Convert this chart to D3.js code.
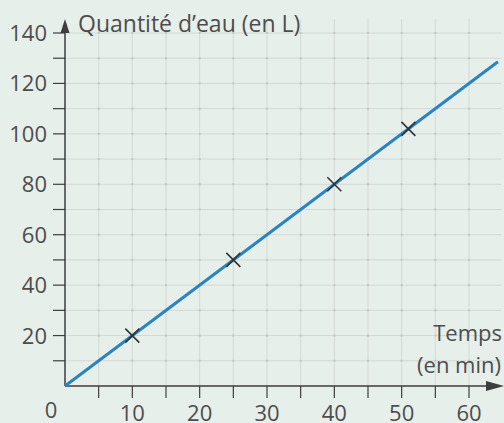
<!DOCTYPE html>
<html><head><meta charset="utf-8">
<script src="https://cdn.jsdelivr.net/npm/d3@7"></script>
<style>
html,body{margin:0;padding:0;background:#e7efea;}
svg{display:block;}
text{font-family:"Open Sans",sans-serif;fill:#4d4d4d;}
</style></head><body>
<svg id="c" width="504" height="423"></svg>
<script>
const pointsX = [10, 25, 40, 51];
const pointsY = [20, 50, 80, 102];
const lineX = [0, 64.3];
const lineY = [0, 128.6];
const xTickLabels = [10, 20, 30, 40, 50, 60];
const yTickLabels = [20, 40, 60, 80, 100, 120, 140];
const xLabel = ["Temps", "(en min)"];
const yLabel = "Quantité d’eau (en L)";

const svg = d3.select("#c");
const x = d3.scaleLinear().domain([0, 60]).range([65, 469]);
const y = d3.scaleLinear().domain([0, 140]).range([386, 33]);

const xMax = 64.8, yMax = 145.5;
const gGrid = svg.append("g");
d3.range(5, 65, 5).forEach(v => {
  gGrid.append("line").attr("x1", x(v)).attr("x2", x(v)).attr("y1", y(0)).attr("y2", y(yMax))
    .attr("stroke", "#d3d8d4").attr("stroke-width", 1);
});
d3.range(10, 150, 10).forEach(v => {
  gGrid.append("line").attr("x1", x(0)).attr("x2", x(xMax)).attr("y1", y(v)).attr("y2", y(v))
    .attr("stroke", "#d3d8d4").attr("stroke-width", 1);
});
d3.range(5, 65, 5).forEach(a => d3.range(10, 150, 10).forEach(b => {
  gGrid.append("rect").attr("x", x(a) - 1).attr("y", y(b) - 1).attr("width", 2).attr("height", 2)
    .attr("fill", "#c3c8c4");
}));

const axisColor = "#3d3d3d";
svg.append("line").attr("x1", x(0)).attr("x2", 496).attr("y1", y(0)).attr("y2", y(0))
  .attr("stroke", axisColor).attr("stroke-width", 1.5);
svg.append("path").attr("d", `M504,${y(0)} L486,${y(0)-5} L486,${y(0)+5} Z`).attr("fill", axisColor);
svg.append("line").attr("x1", x(0)).attr("x2", x(0)).attr("y1", y(0)).attr("y2", 26)
  .attr("stroke", axisColor).attr("stroke-width", 1.5);
svg.append("path").attr("d", `M${x(0)},19 L${x(0)-4.5},33 L${x(0)+4.5},33 Z`).attr("fill", axisColor);

d3.range(5, 65, 5).forEach(v => {
  svg.append("line").attr("x1", x(v)).attr("x2", x(v)).attr("y1", y(0)).attr("y2", y(0) + 12)
    .attr("stroke", axisColor).attr("stroke-width", 1.2);
});
d3.range(10, 150, 10).forEach(v => {
  svg.append("line").attr("x1", x(0) - 12).attr("x2", x(0)).attr("y1", y(v)).attr("y2", y(v))
    .attr("stroke", axisColor).attr("stroke-width", 1.2);
});

svg.selectAll(".xl").data(xTickLabels).enter().append("text")
  .attr("x", d => x(d)).attr("y", 421).attr("text-anchor", "middle")
  .attr("font-size", 22).text(d => d);
svg.append("text").attr("x", 51).attr("y", 418).attr("text-anchor", "middle").attr("font-size", 22).text("0");
svg.selectAll(".yl").data(yTickLabels).enter().append("text")
  .attr("x", 47).attr("y", d => y(d) + 8).attr("text-anchor", "end")
  .attr("font-size", 22).text(d => d);

svg.append("text").attr("x", 78).attr("y", 32).attr("font-size", 23).text(yLabel);
svg.append("text").attr("x", 502).attr("y", 341).attr("text-anchor", "end").attr("font-size", 22).text(xLabel[0]);
svg.append("text").attr("x", 501).attr("y", 373).attr("text-anchor", "end").attr("font-size", 22).text(xLabel[1]);

const lineData = lineX.map((d, i) => [d, lineY[i]]);
svg.append("path").datum(lineData)
  .attr("d", d3.line().x(d => x(d[0])).y(d => y(d[1])))
  .attr("stroke", "#2b84c0").attr("stroke-width", 3).attr("fill", "none");

const s = 7;
pointsX.forEach((px, i) => {
  const cx = x(px), cy = y(pointsY[i]);
  svg.append("path").attr("d", `M${cx-s},${cy-s}L${cx+s},${cy+s}M${cx-s},${cy+s}L${cx+s},${cy-s}`)
    .attr("stroke", "#333").attr("stroke-width", 1.6).attr("fill", "none");
});
</script></body></html>
